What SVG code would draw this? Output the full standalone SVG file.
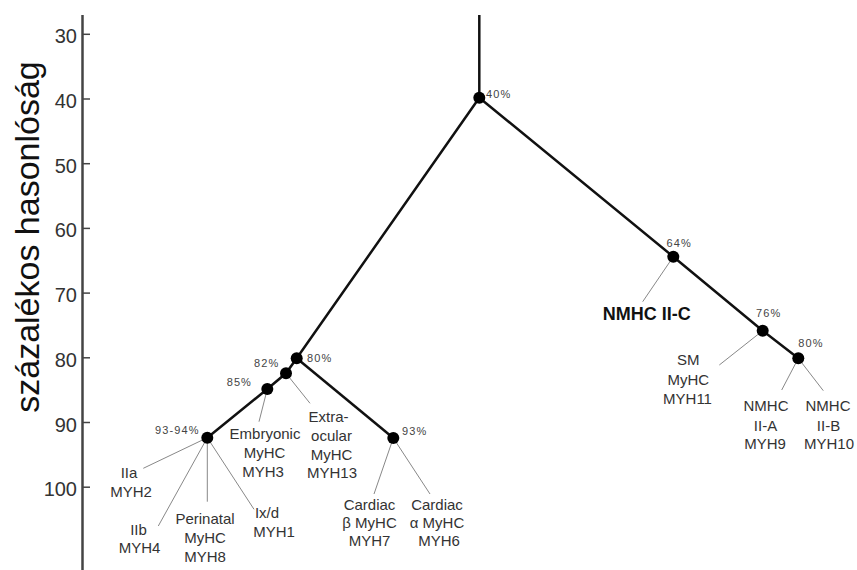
<svg xmlns="http://www.w3.org/2000/svg" width="857" height="570" viewBox="0 0 857 570">
<style>
.axis{stroke:#444;stroke-width:2.5;fill:none}
.tick{stroke:#444;stroke-width:1.5}
.ticklbl{font-family:"Liberation Sans",Arial,sans-serif;font-size:20px;fill:#333;text-anchor:end}
.title{font-family:"Liberation Sans",Arial,sans-serif;font-size:34px;fill:#111;text-anchor:middle}
.branch{stroke:#111;stroke-width:2.5;fill:none}
.leaf{stroke:#888;stroke-width:1;fill:none}
.dot{fill:#000}
.pct{font-family:"Liberation Sans",Arial,sans-serif;font-size:11px;letter-spacing:1.1px;fill:#444}
.lbl{font-family:"Liberation Sans",Arial,sans-serif;font-size:15px;fill:#333;text-anchor:middle}
.bold{font-weight:bold;font-size:18px;fill:#111}
</style>
<rect width="857" height="570" fill="#fff"/>
<g id="axis">
<line class="axis" x1="82.5" y1="15" x2="82.5" y2="570"/>
<line class="tick" x1="82" y1="34.3" x2="90" y2="34.3"/>
<line class="tick" x1="82" y1="99" x2="90" y2="99"/>
<line class="tick" x1="82" y1="163.7" x2="90" y2="163.7"/>
<line class="tick" x1="82" y1="228.4" x2="90" y2="228.4"/>
<line class="tick" x1="82" y1="293.1" x2="90" y2="293.1"/>
<line class="tick" x1="82" y1="357.8" x2="90" y2="357.8"/>
<line class="tick" x1="82" y1="422.5" x2="90" y2="422.5"/>
<line class="tick" x1="82" y1="487.2" x2="90" y2="487.2"/>
<text class="ticklbl" x="77" y="43.3">30</text>
<text class="ticklbl" x="77" y="108">40</text>
<text class="ticklbl" x="77" y="172.7">50</text>
<text class="ticklbl" x="77" y="237.4">60</text>
<text class="ticklbl" x="77" y="302.1">70</text>
<text class="ticklbl" x="77" y="366.8">80</text>
<text class="ticklbl" x="77" y="431.5">90</text>
<text class="ticklbl" x="77" y="496.2">100</text>
<text class="title" transform="translate(39,237) rotate(-90)">százalékos hasonlóság</text>
</g>
<g id="connectors">
<line class="branch" x1="479.3" y1="15" x2="479.3" y2="97.7"/>
<polyline class="branch" points="479.3,97.7 673.3,256.7 762.7,330.7 798.3,358.3"/>
<polyline class="branch" points="479.3,97.7 296.7,358.3 286,373.3 267.3,389 207.3,437.7"/>
<line class="branch" x1="296.7" y1="358.3" x2="393.3" y2="438"/>
<line class="leaf" x1="207.3" y1="437.7" x2="143.3" y2="468.3"/>
<line class="leaf" x1="207.3" y1="437.7" x2="158.3" y2="526"/>
<line class="leaf" x1="207.3" y1="437.7" x2="207.3" y2="501.7"/>
<line class="leaf" x1="207.3" y1="437.7" x2="254" y2="509.3"/>
<line class="leaf" x1="267.3" y1="389" x2="259" y2="421.7"/>
<line class="leaf" x1="286" y1="373.3" x2="310" y2="403.3"/>
<line class="leaf" x1="393.3" y1="438" x2="374" y2="494"/>
<line class="leaf" x1="393.3" y1="438" x2="430" y2="494"/>
<line class="leaf" x1="673.3" y1="256.7" x2="642.7" y2="301.7"/>
<line class="leaf" x1="762.7" y1="330.7" x2="719.3" y2="365"/>
<line class="leaf" x1="798.3" y1="358.3" x2="781.7" y2="390"/>
<line class="leaf" x1="798.3" y1="358.3" x2="823.3" y2="390.7"/>
</g>
<g id="n40"><circle class="dot" cx="479.3" cy="97.7" r="6"/><text class="pct" x="486" y="97.5">40%</text></g>
<g id="n64"><circle class="dot" cx="673.3" cy="256.7" r="6"/><text class="pct" x="666.5" y="247.3">64%</text></g>
<g id="n76"><circle class="dot" cx="762.7" cy="330.7" r="6"/><text class="pct" x="756" y="317.3">76%</text></g>
<g id="n80r"><circle class="dot" cx="798.3" cy="358.3" r="6"/><text class="pct" x="798.3" y="346.7">80%</text></g>
<g id="n80l"><circle class="dot" cx="296.7" cy="358.3" r="6"/><text class="pct" x="307" y="362.3">80%</text></g>
<g id="n82"><circle class="dot" cx="286" cy="373.3" r="6"/><text class="pct" x="254" y="366.7">82%</text></g>
<g id="n85"><circle class="dot" cx="267.3" cy="389" r="6"/><text class="pct" x="226.7" y="386.3">85%</text></g>
<g id="n9394"><circle class="dot" cx="207.3" cy="437.7" r="6"/><text class="pct" x="155" y="434">93-94%</text></g>
<g id="n93"><circle class="dot" cx="393.3" cy="438" r="6"/><text class="pct" x="402" y="434.7">93%</text></g>
<g id="IIa"><text class="lbl" x="129" y="478">IIa</text><text class="lbl" x="131" y="497">MYH2</text></g>
<g id="IIb"><text class="lbl" x="138.5" y="534.5">IIb</text><text class="lbl" x="139.5" y="553">MYH4</text></g>
<g id="perinatal"><text class="lbl" x="205" y="523.5">Perinatal</text><text class="lbl" x="205" y="542.5">MyHC</text><text class="lbl" x="205" y="561.5">MYH8</text></g>
<g id="ixd"><text class="lbl" x="267" y="517.5">Ix/d</text><text class="lbl" x="274" y="537">MYH1</text></g>
<g id="embryonic"><text class="lbl" x="265" y="438.5">Embryonic</text><text class="lbl" x="264.5" y="457.5">MyHC</text><text class="lbl" x="263" y="477">MYH3</text></g>
<g id="extraocular"><text class="lbl" x="328.5" y="421.5">Extra-</text><text class="lbl" x="331.5" y="440.5">ocular</text><text class="lbl" x="331.5" y="459.5">MyHC</text><text class="lbl" x="332" y="478">MYH13</text></g>
<g id="cardiacb"><text class="lbl" x="369.5" y="510">Cardiac</text><text class="lbl" x="369.5" y="527.5">β MyHC</text><text class="lbl" x="369.5" y="545.5">MYH7</text></g>
<g id="cardiaca"><text class="lbl" x="437" y="510">Cardiac</text><text class="lbl" x="437" y="527.5">α MyHC</text><text class="lbl" x="439" y="545.5">MYH6</text></g>
<g id="nmhc2c"><text class="lbl bold" x="646.7" y="319.7">NMHC II-C</text></g>
<g id="sm"><text class="lbl" x="688.3" y="365">SM</text><text class="lbl" x="688.3" y="385">MyHC</text><text class="lbl" x="687.5" y="404">MYH11</text></g>
<g id="nmhc2a"><text class="lbl" x="766" y="411">NMHC</text><text class="lbl" x="765.5" y="430.5">II-A</text><text class="lbl" x="765" y="449">MYH9</text></g>
<g id="nmhc2b"><text class="lbl" x="828" y="411">NMHC</text><text class="lbl" x="828.5" y="430.5">II-B</text><text class="lbl" x="829" y="449">MYH10</text></g>
</svg>
